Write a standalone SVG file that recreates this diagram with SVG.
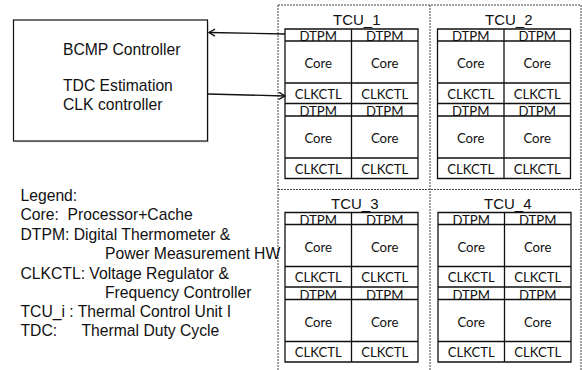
<svg xmlns="http://www.w3.org/2000/svg" width="582" height="370" viewBox="0 0 582 370">
<style>
  .frame{fill:none;stroke:#444;stroke-width:1;stroke-dasharray:2 1}
  .grid{fill:none;stroke:#111;stroke-width:1.3}
  .bg{fill:#fff}
  .cell{font-family:Lato,"Open Sans","DejaVu Sans",sans-serif;font-size:13.2px;fill:#111;text-anchor:middle}
  .tcu{font-family:"Liberation Sans",Arial,sans-serif;font-size:15px;fill:#111}
  .lbl{font-family:"Liberation Sans",Arial,sans-serif;font-size:15.7px;fill:#111}
  .box{fill:#fff;stroke:#111;stroke-width:1.2}
  .shadow{fill:#ccc;opacity:0.6}
  .conn{fill:none;stroke:#111;stroke-width:1.3}
</style>
<defs>
  <marker id="arr" markerWidth="10" markerHeight="10" refX="8" refY="5" orient="auto" markerUnits="userSpaceOnUse">
    <polyline points="2,1.5 8,5 2,8.5" fill="none" stroke="#111" stroke-width="1.3"/>
  </marker>
</defs>
<rect width="582" height="370" fill="#fff"/>

<g id="frame">
  <line class="frame" x1="278" y1="5" x2="581" y2="5"/>
  <line class="frame" x1="278" y1="5" x2="278" y2="370"/>
  <line class="frame" x1="430" y1="5" x2="430" y2="370"/>
  <line class="frame" x1="581" y1="5" x2="581" y2="370"/>
  <line class="frame" x1="278" y1="189.5" x2="581" y2="189.5"/>
</g>

<g id="bcmp">
  <rect class="shadow" x="15" y="22" width="194" height="120.5"/>
  <rect class="box" x="13.5" y="20" width="194" height="121"/>
  <text class="lbl" x="63" y="54.5">BCMP Controller</text>
  <text class="lbl" x="63" y="91">TDC Estimation</text>
  <text class="lbl" x="63" y="110">CLK controller</text>
</g>

<g id="tcu1">
  <text class="tcu" x="333" y="25">TCU_1</text>
  <g transform="translate(285,29)">
    <rect class="bg" x="0" y="0" width="133" height="149.5"/>
    <text class="cell" x="33.25" y="12.3">DTPM</text><text class="cell" x="99.75" y="12.3">DTPM</text>
    <text class="cell" x="33.25" y="39">Core</text><text class="cell" x="99.75" y="39">Core</text>
    <text class="cell" x="33.25" y="69.5">CLKCTL</text><text class="cell" x="99.75" y="69.5">CLKCTL</text>
    <text class="cell" x="33.25" y="87.3">DTPM</text><text class="cell" x="99.75" y="87.3">DTPM</text>
    <text class="cell" x="33.25" y="114">Core</text><text class="cell" x="99.75" y="114">Core</text>
    <text class="cell" x="33.25" y="144.5">CLKCTL</text><text class="cell" x="99.75" y="144.5">CLKCTL</text>
    <path class="grid" d="M0,0H133V149.5H0Z M66.5,0V149.5 M0,12H133 M0,54H133 M0,74.5H133 M0,87H133 M0,129H133"/>
  </g>
</g>

<g id="tcu2">
  <text class="tcu" x="485" y="25">TCU_2</text>
  <g transform="translate(437.5,29)">
    <rect class="bg" x="0" y="0" width="133" height="149.5"/>
    <text class="cell" x="33.25" y="12.3">DTPM</text><text class="cell" x="99.75" y="12.3">DTPM</text>
    <text class="cell" x="33.25" y="39">Core</text><text class="cell" x="99.75" y="39">Core</text>
    <text class="cell" x="33.25" y="69.5">CLKCTL</text><text class="cell" x="99.75" y="69.5">CLKCTL</text>
    <text class="cell" x="33.25" y="87.3">DTPM</text><text class="cell" x="99.75" y="87.3">DTPM</text>
    <text class="cell" x="33.25" y="114">Core</text><text class="cell" x="99.75" y="114">Core</text>
    <text class="cell" x="33.25" y="144.5">CLKCTL</text><text class="cell" x="99.75" y="144.5">CLKCTL</text>
    <path class="grid" d="M0,0H133V149.5H0Z M66.5,0V149.5 M0,12H133 M0,54H133 M0,74.5H133 M0,87H133 M0,129H133"/>
  </g>
</g>

<g id="tcu3">
  <text class="tcu" x="331" y="209">TCU_3</text>
  <g transform="translate(285,212.5)">
    <rect class="bg" x="0" y="0" width="133" height="149.5"/>
    <text class="cell" x="33.25" y="12.3">DTPM</text><text class="cell" x="99.75" y="12.3">DTPM</text>
    <text class="cell" x="33.25" y="39">Core</text><text class="cell" x="99.75" y="39">Core</text>
    <text class="cell" x="33.25" y="69.5">CLKCTL</text><text class="cell" x="99.75" y="69.5">CLKCTL</text>
    <text class="cell" x="33.25" y="87.3">DTPM</text><text class="cell" x="99.75" y="87.3">DTPM</text>
    <text class="cell" x="33.25" y="114">Core</text><text class="cell" x="99.75" y="114">Core</text>
    <text class="cell" x="33.25" y="144.5">CLKCTL</text><text class="cell" x="99.75" y="144.5">CLKCTL</text>
    <path class="grid" d="M0,0H133V149.5H0Z M66.5,0V149.5 M0,12H133 M0,54H133 M0,74.5H133 M0,87H133 M0,129H133"/>
  </g>
</g>

<g id="tcu4">
  <text class="tcu" x="484" y="209">TCU_4</text>
  <g transform="translate(438,212.5)">
    <rect class="bg" x="0" y="0" width="133" height="149.5"/>
    <text class="cell" x="33.25" y="12.3">DTPM</text><text class="cell" x="99.75" y="12.3">DTPM</text>
    <text class="cell" x="33.25" y="39">Core</text><text class="cell" x="99.75" y="39">Core</text>
    <text class="cell" x="33.25" y="69.5">CLKCTL</text><text class="cell" x="99.75" y="69.5">CLKCTL</text>
    <text class="cell" x="33.25" y="87.3">DTPM</text><text class="cell" x="99.75" y="87.3">DTPM</text>
    <text class="cell" x="33.25" y="114">Core</text><text class="cell" x="99.75" y="114">Core</text>
    <text class="cell" x="33.25" y="144.5">CLKCTL</text><text class="cell" x="99.75" y="144.5">CLKCTL</text>
    <path class="grid" d="M0,0H133V149.5H0Z M66.5,0V149.5 M0,12H133 M0,54H133 M0,74.5H133 M0,87H133 M0,129H133"/>
  </g>
</g>

<g id="connectors">
  <line class="conn" x1="285" y1="34" x2="209" y2="32.5" marker-end="url(#arr)"/>
  <line class="conn" x1="208" y1="94" x2="285" y2="96" marker-end="url(#arr)"/>
</g>

<g id="legend">
  <text class="lbl" x="20.5" y="201">Legend:</text>
  <text class="lbl" x="20.5" y="220" xml:space="preserve">Core:  Processor+Cache</text>
  <text class="lbl" x="20.5" y="239.5">DTPM: Digital Thermometer &amp;</text>
  <text class="lbl" x="105" y="259">Power Measurement HW</text>
  <text class="lbl" x="20.5" y="278.5">CLKCTL: Voltage Regulator &amp;</text>
  <text class="lbl" x="105" y="297.5">Frequency Controller</text>
  <text class="lbl" x="20.5" y="317">TCU_i : Thermal Control Unit I</text>
  <text class="lbl" x="20.5" y="336">TDC:<tspan x="81.5">Thermal Duty Cycle</tspan></text>
</g>
</svg>
